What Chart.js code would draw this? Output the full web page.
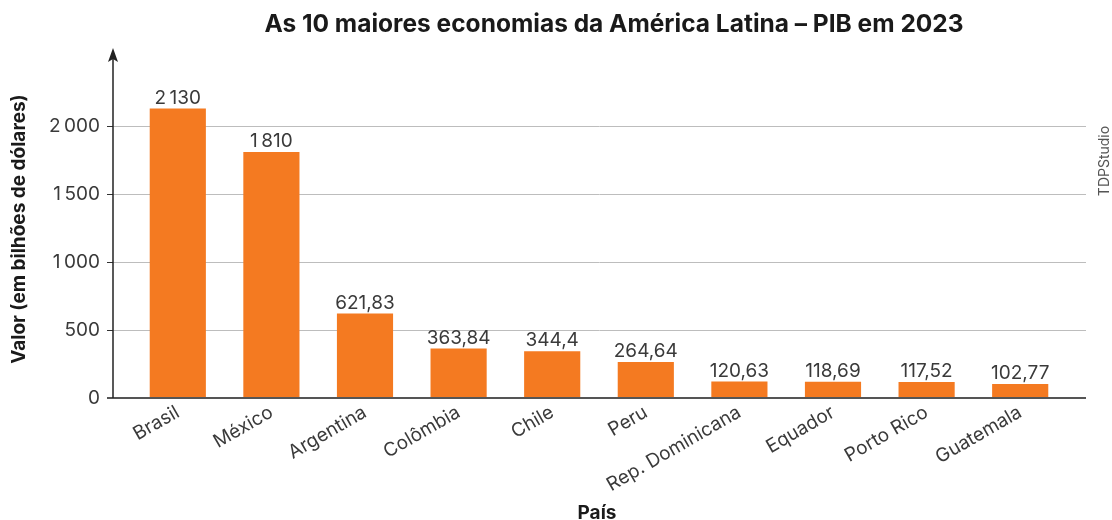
<!DOCTYPE html>
<html>
<head>
<meta charset="utf-8">
<script src="https://cdn.jsdelivr.net/npm/chart.js@4"></script>
<style>
  html, body { margin: 0; padding: 0; background: #fff; }
  #wrap { width: 1112px; height: 520px; position: relative; }
</style>
</head>
<body>
<div id="wrap"><canvas id="gdpChart"></canvas></div>
<script>
// data
const countries = ['Brasil', 'México', 'Argentina', 'Colômbia', 'Chile', 'Peru', 'Rep. Dominicana', 'Equador', 'Porto Rico', 'Guatemala'];
const gdpValues = [2130, 1810, 621.83, 363.84, 344.4, 264.64, 120.63, 118.69, 117.52, 102.77];
const yTicks = [0, 500, 1000, 1500, 2000];

const FONT = 'Inter, "Noto Sans", sans-serif';
const TEXT = '#3a3a3a';

function fmt(v) {
    // pt-BR style: thin space for thousands, comma for decimals
    const parts = String(v).split('.');
    const intPart = parts[0].replace(/\B(?=(\d{3})+(?!\d))/g, '\u2009');
    return parts.length > 1 ? intPart + ',' + parts[1] : intPart;
}

const decorPlugin = {
    id: 'decor',
    beforeDatasetsDraw(chart) {
        const ctx = chart.ctx;
        const y = chart.scales.y;
        const left = 113, right = 1086;
        ctx.save();
        // gridlines
        ctx.strokeStyle = '#bdbdbd';
        ctx.lineWidth = 1;
        yTicks.forEach(t => {
            if (t === 0) return;
            const py = Math.round(y.getPixelForValue(t)) + 0.5;
            ctx.beginPath();
            ctx.moveTo(left, py);
            ctx.lineTo(right, py);
            ctx.stroke();
        });
        // tick marks
        ctx.strokeStyle = '#333';
        yTicks.forEach(t => {
            const py = Math.round(y.getPixelForValue(t)) + 0.5;
            ctx.beginPath();
            ctx.moveTo(107, py);
            ctx.lineTo(left, py);
            ctx.stroke();
        });
        ctx.restore();
    },
    afterDatasetsDraw(chart) {
        const ctx = chart.ctx;
        const y = chart.scales.y;
        const base = y.getPixelForValue(0);
        ctx.save();
        // x axis line
        ctx.strokeStyle = '#555';
        ctx.lineWidth = 2;
        ctx.beginPath();
        ctx.moveTo(107, base);
        ctx.lineTo(1086, base);
        ctx.stroke();
        // y axis line with arrow
        ctx.strokeStyle = '#222';
        ctx.lineWidth = 1.5;
        ctx.beginPath();
        ctx.moveTo(113, base);
        ctx.lineTo(113, 58);
        ctx.stroke();
        ctx.fillStyle = '#222';
        ctx.beginPath();
        ctx.moveTo(113, 48);
        ctx.lineTo(108, 62);
        ctx.lineTo(113, 59);
        ctx.lineTo(118, 62);
        ctx.closePath();
        ctx.fill();

        // value labels
        const meta = chart.getDatasetMeta(0);
        ctx.fillStyle = TEXT;
        ctx.font = '19px ' + FONT;
        ctx.textAlign = 'center';
        ctx.textBaseline = 'bottom';
        meta.data.forEach((bar, i) => {
            ctx.fillText(fmt(gdpValues[i]), bar.x, bar.y - 1);
        });

        // title
        ctx.font = 'bold 24.5px ' + FONT;
        ctx.fillStyle = '#1a1a1a';
        ctx.textBaseline = 'middle';
        ctx.fillText('As 10 maiores economias da América Latina \u2013 PIB em 2023', 614, 25);

        // axis titles
        ctx.font = 'bold 19px ' + FONT;
        ctx.fillText('País', 597, 513);
        ctx.save();
        ctx.translate(19, 229);
        ctx.rotate(-Math.PI / 2);
        ctx.fillText('Valor (em bilhões de dólares)', 0, 0);
        ctx.restore();

        // credit
        ctx.save();
        ctx.translate(1105, 161);
        ctx.rotate(-Math.PI / 2);
        ctx.font = '14px ' + FONT;
        ctx.fillStyle = '#555';
        ctx.fillText('TDPStudio', 0, 0);
        ctx.restore();

        ctx.restore();
    }
};

const ctx = document.getElementById('gdpChart').getContext('2d');
const gdpChart = new Chart(ctx, {
    type: 'bar',
    data: {
        labels: countries,
        datasets: [{
            data: gdpValues,
            backgroundColor: '#f47a21',
            barPercentage: 1,
            categoryPercentage: 0.6
        }]
    },
    options: {
        responsive: true,
        maintainAspectRatio: false,
        animation: false,
        layout: { padding: { top: 50, right: 45, left: 0, bottom: 0 } },
        plugins: {
            legend: { display: false },
            tooltip: { enabled: false }
        },
        scales: {
            x: {
                grid: { display: false, drawTicks: false },
                border: { display: false },
                ticks: {
                    color: TEXT,
                    font: { family: FONT, size: 19 },
                    maxRotation: 30,
                    minRotation: 30,
                    padding: 3,
                    autoSkip: false
                },
                afterFit(scale) { scale.height = 122; }
            },
            y: {
                min: 0,
                max: 2560,
                grid: { display: false, drawTicks: false },
                border: { display: false },
                ticks: {
                    stepSize: 500,
                    color: TEXT,
                    font: { family: FONT, size: 19 },
                    padding: 31,
                    callback: v => fmt(v)
                },
                afterBuildTicks(scale) {
                    scale.ticks = yTicks.map(v => ({ value: v }));
                },
                afterFit(scale) { scale.width = 131; }
            }
        }
    },
    plugins: [decorPlugin]
});
</script>
</body>
</html>
